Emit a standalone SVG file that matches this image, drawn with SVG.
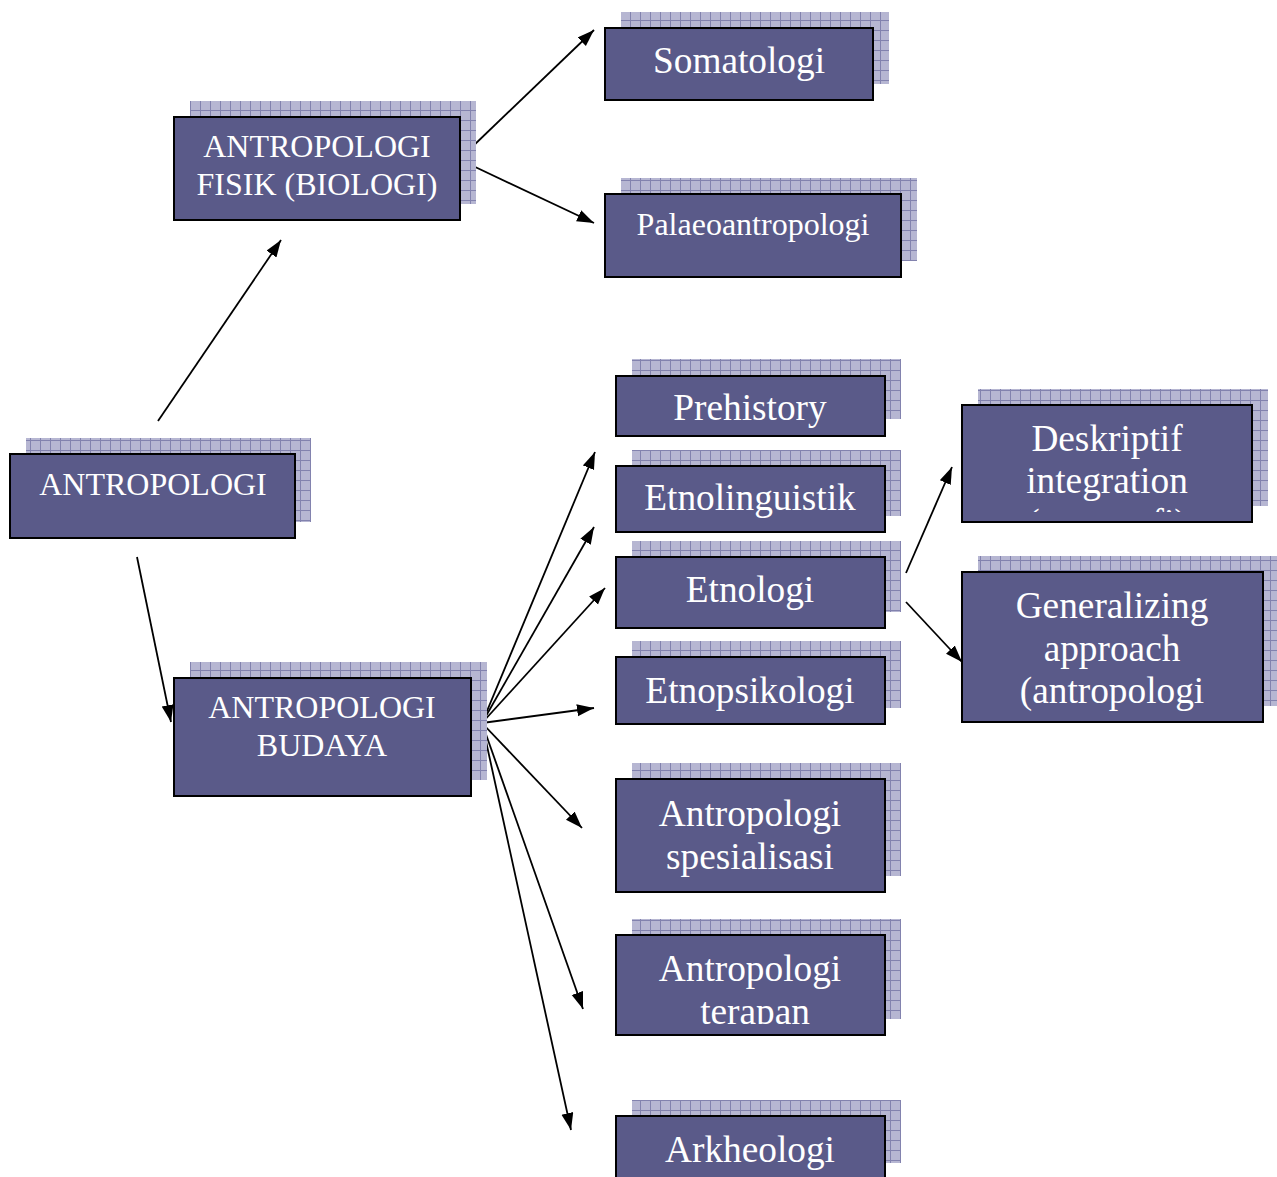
<svg xmlns="http://www.w3.org/2000/svg" width="1277" height="1177" viewBox="0 0 1277 1177">
<style>
.sh{fill:url(#grid)}
.bx{fill:#5a5a89;stroke:#000;stroke-width:2}
.t{font-family:"Liberation Serif","Times New Roman",serif;fill:#fff;text-anchor:middle}
.t32{font-size:32px}
.t37{font-size:37.3px}
.cn line{stroke:#000;stroke-width:1.8;marker-end:url(#ah)}
</style>
<defs>
<pattern id="grid" width="10" height="10" patternUnits="userSpaceOnUse">
<rect width="10" height="10" fill="#b6b6d2"/>
<path d="M0,0.5H10M0.5,0V10" stroke="#8282ae" stroke-width="1"/>
</pattern>
<marker id="ah" markerWidth="18" markerHeight="13" refX="17" refY="6" orient="auto" markerUnits="userSpaceOnUse">
<path d="M0,0L17,6L0,12z" fill="#000"/>
</marker>
<clipPath id="cDes"><rect x="962" y="405" width="290" height="107"/></clipPath>
<clipPath id="cTer"><rect x="616" y="935" width="269" height="89"/></clipPath>
<clipPath id="cGen"><rect x="962" y="572" width="301" height="140"/></clipPath>
</defs>
<g class="cn" id="connectors">
<line x1="158" y1="421" x2="281" y2="240"/>
<line x1="137" y1="557" x2="171" y2="722"/>
<line x1="471" y1="148" x2="594" y2="30"/>
<line x1="471" y1="165" x2="594" y2="223"/>
<line x1="482" y1="723" x2="595" y2="452"/>
<line x1="482" y1="723" x2="594" y2="527"/>
<line x1="482" y1="723" x2="605" y2="588"/>
<line x1="482" y1="723" x2="594" y2="708"/>
<line x1="482" y1="723" x2="582" y2="828"/>
<line x1="482" y1="723" x2="583" y2="1009"/>
<line x1="482" y1="723" x2="571" y2="1130"/>
<line x1="906" y1="573" x2="952" y2="467"/>
<line x1="906" y1="602" x2="962" y2="662"/>
</g>
<g id="n-antropologi">
<rect class="sh" x="26" y="438" width="285" height="84"/>
<rect class="bx" x="10" y="454" width="285" height="84"/>
<text class="t t32" x="153" y="495">ANTROPOLOGI</text>
</g>
<g id="n-fisik">
<rect class="sh" x="190" y="101" width="286" height="103"/>
<rect class="bx" x="174" y="117" width="286" height="103"/>
<text class="t t32" x="317" y="157">ANTROPOLOGI</text>
<text class="t t32" x="317" y="195">FISIK (BIOLOGI)</text>
</g>
<g id="n-budaya">
<rect class="sh" x="190" y="662" width="297" height="118"/>
<rect class="bx" x="174" y="678" width="297" height="118"/>
<text class="t t32" x="322" y="718">ANTROPOLOGI</text>
<text class="t t32" x="322" y="756">BUDAYA</text>
</g>
<g id="n-somatologi">
<rect class="sh" x="621" y="12" width="268" height="72"/>
<rect class="bx" x="605" y="28" width="268" height="72"/>
<text class="t t37" x="739" y="73">Somatologi</text>
</g>
<g id="n-palaeo">
<rect class="sh" x="621" y="178" width="296" height="83"/>
<rect class="bx" x="605" y="194" width="296" height="83"/>
<text class="t t32" x="753" y="235">Palaeoantropologi</text>
</g>
<g id="n-prehistory">
<rect class="sh" x="632" y="359" width="269" height="60"/>
<rect class="bx" x="616" y="376" width="269" height="60"/>
<text class="t t37" x="750" y="420">Prehistory</text>
</g>
<g id="n-etnolinguistik">
<rect class="sh" x="632" y="450" width="269" height="66"/>
<rect class="bx" x="616" y="466" width="269" height="66"/>
<text class="t t37" x="750" y="510">Etnolinguistik</text>
</g>
<g id="n-etnologi">
<rect class="sh" x="632" y="541" width="269" height="71"/>
<rect class="bx" x="616" y="557" width="269" height="71"/>
<text class="t t37" x="750" y="602">Etnologi</text>
</g>
<g id="n-etnopsikologi">
<rect class="sh" x="632" y="641" width="269" height="67"/>
<rect class="bx" x="616" y="657" width="269" height="67"/>
<text class="t t37" x="750" y="703">Etnopsikologi</text>
</g>
<g id="n-spesialisasi">
<rect class="sh" x="632" y="763" width="269" height="113"/>
<rect class="bx" x="616" y="779" width="269" height="113"/>
<text class="t t37" x="750" y="826">Antropologi</text>
<text class="t t37" x="750" y="869">spesialisasi</text>
</g>
<g id="n-terapan">
<rect class="sh" x="632" y="919" width="269" height="100"/>
<rect class="bx" x="616" y="935" width="269" height="100"/>
<g clip-path="url(#cTer)">
<text class="t t37" x="750" y="981">Antropologi</text>
<text class="t t37" x="755" y="1024">terapan</text>
</g>
</g>
<g id="n-arkheologi">
<rect class="sh" x="632" y="1100" width="269" height="63"/>
<rect class="bx" x="616" y="1116" width="269" height="80"/>
<text class="t t37" x="750" y="1162">Arkheologi</text>
</g>
<g id="n-deskriptif">
<rect class="sh" x="978" y="389" width="290" height="117"/>
<rect class="bx" x="962" y="405" width="290" height="117"/>
<g clip-path="url(#cDes)">
<text class="t t37" x="1107" y="451">Deskriptif</text>
<text class="t t37" x="1107" y="493">integration</text>
<text class="t t37" x="1107" y="535">(etnografi)</text>
</g>
</g>
<g id="n-generalizing">
<rect class="sh" x="978" y="556" width="299" height="150"/>
<rect class="bx" x="962" y="572" width="301" height="150"/>
<g clip-path="url(#cGen)">
<text class="t t37" x="1112" y="618">Generalizing</text>
<text class="t t37" x="1112" y="661">approach</text>
<text class="t t37" x="1112" y="703">(antropologi</text>
</g>
</g>
</svg>
